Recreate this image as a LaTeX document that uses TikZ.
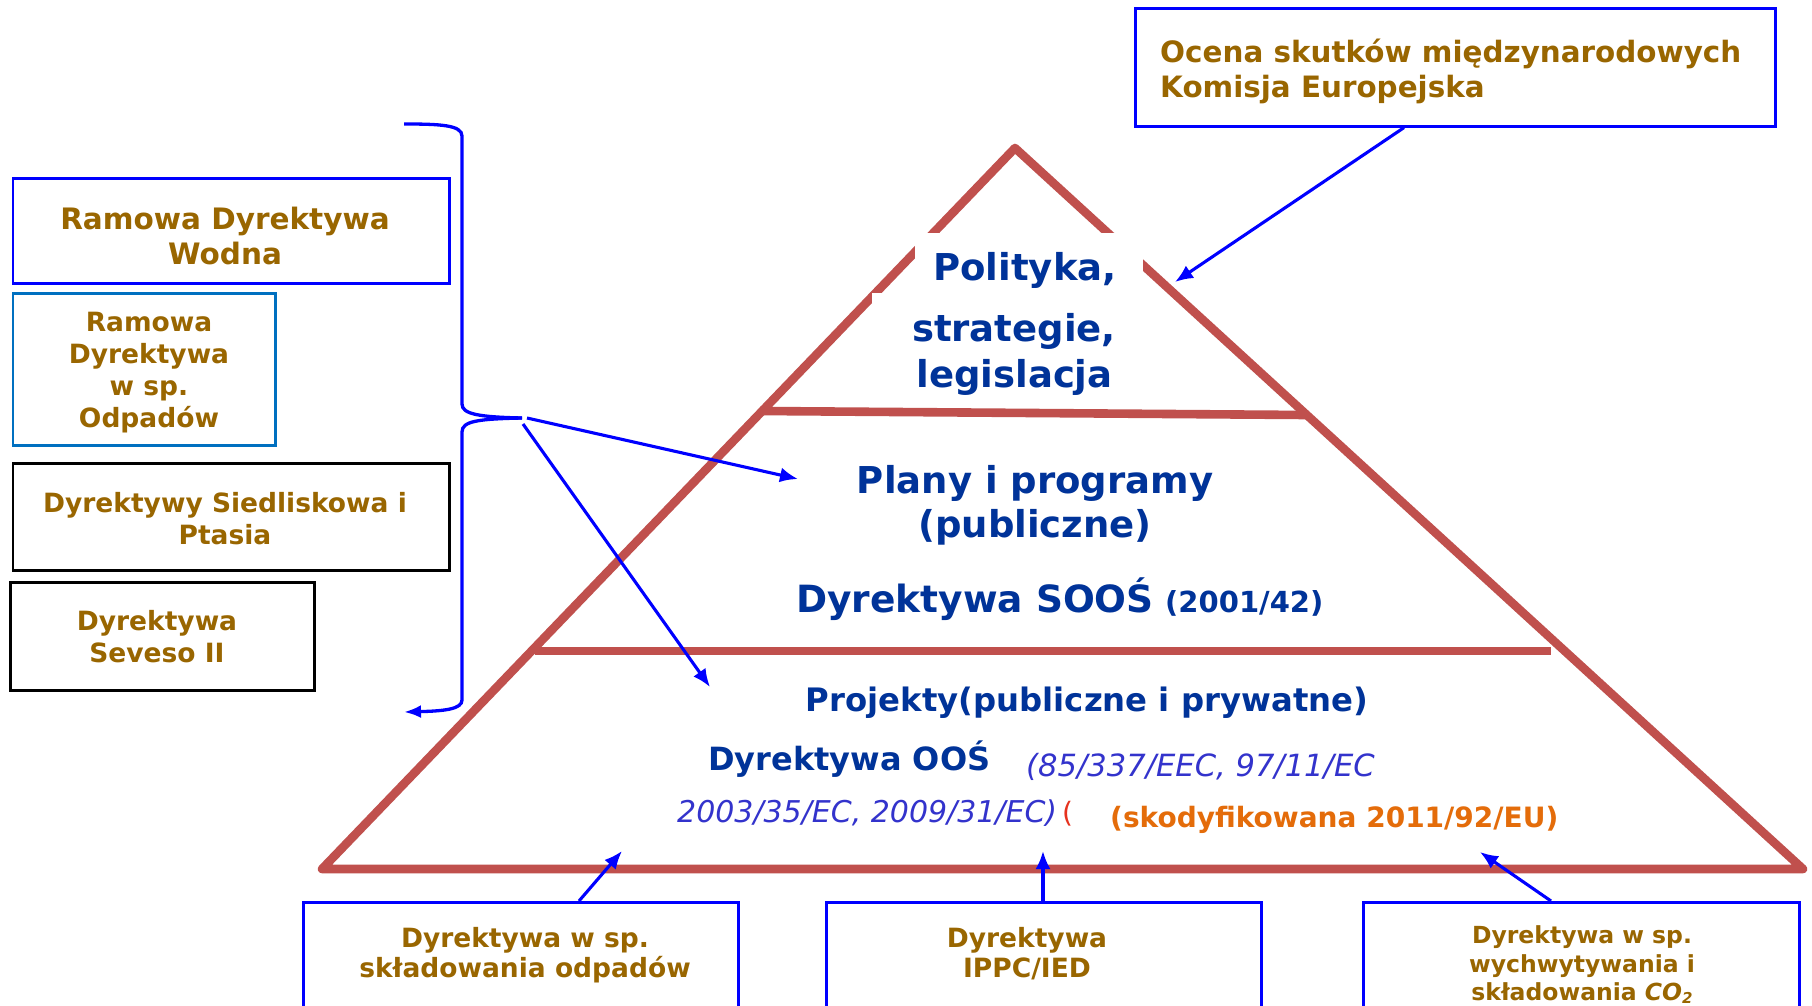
\documentclass[tikz,border=0pt]{standalone}
\usepackage{fontspec}
\setmainfont{DejaVu Sans}
\usetikzlibrary{arrows.meta,calc}
\definecolor{pyr}{RGB}{192,80,77}
\definecolor{gold}{RGB}{153,102,0}
\definecolor{navy}{RGB}{0,51,153}
\definecolor{vio}{RGB}{51,51,204}
\definecolor{orng}{RGB}{228,108,10}
\definecolor{redp}{RGB}{230,50,30}
\definecolor{ablue}{RGB}{0,0,255}
\definecolor{midblue}{RGB}{0,112,192}
\begin{document}
\begin{tikzpicture}[x=1pt,y=-1pt,
  pyrline/.style={draw=pyr,line width=8.6pt,line join=round,line cap=round},
  divline/.style={draw=pyr,line width=8.6pt,line cap=butt},
  conn/.style={draw=ablue,line width=3.1pt,-{Latex[length=18pt,width=15pt]}},
  bracel/.style={draw=ablue,line width=3.3pt},
  boxbase/.style={rectangle,inner sep=0pt,anchor=north west},
  bluebox/.style={boxbase,draw=ablue,line width=2.6pt},
  lbluebox/.style={boxbase,draw=midblue,line width=2.6pt},
  blackbox/.style={boxbase,draw=black,line width=2.8pt},
  gt/.style={text=gold,inner sep=0pt,anchor=base,font=\bfseries\fontsize{#1}{#1}\selectfont},
  gtl/.style={gt=#1,anchor=base west},
  nt/.style={text=navy,inner sep=0pt,anchor=base,font=\bfseries\fontsize{#1}{#1}\selectfont},
  ntl/.style={nt=#1,anchor=base west},
  vt/.style={text=vio,inner sep=0pt,anchor=base west,font=\itshape\fontsize{#1}{#1}\selectfont},
]
\useasboundingbox (0,0) rectangle (1812,1006);
\fill[white] (0,0) rectangle (1812,1006);

% pyramid
\draw[pyrline] (322,869) -- (1015,148) -- (1803,869) -- cycle;
\draw[divline] (760,411) -- (1306,415);
\draw[divline] (535,651) -- (1551,651);
% white masks of the top text block
\fill[white] (915,233) rectangle (1143,404);
\fill[white] (872,293) rectangle (1160,404);

% pyramid texts
\node[nt=37] (pol) at (1025,280) {Polityka,};
\node[nt=37] (str) at (1014,341) {strategie,};
\node[nt=37] (leg) at (1014.5,387) {legislacja};
\node[nt=37] (pla) at (1035,493) {Plany i programy};
\node[nt=37] (pub) at (1035,537) {(publiczne)};
\node[ntl=37.5] (soos) at (796,612) {Dyrektywa SOOŚ};
\node[ntl=29] (soosn) at (1165,612) {(2001/42)};
\node[nt=32.3] (proj) at (1087,711) {Projekty(publiczne i prywatne)};
\node[ntl=32] (oos) at (708,770) {Dyrektywa OOŚ};
\node[vt=30.6] (oosa) at (1026,776) {(85/337/EEC, 97/11/EC};
\node[vt=30] (oosb) at (677,822) {2003/35/EC, 2009/31/EC)};
\node[text=redp,inner sep=0pt,anchor=base west,font=\fontsize{28}{28}\selectfont] (redpar) at (1062,822) {(};
\node[text=orng,inner sep=0pt,anchor=base west,font=\bfseries\fontsize{28}{28}\selectfont] (skod) at (1110,827) {(skodyfikowana 2011/92/EU)};

% boxes
\node[bluebox,minimum width=640pt,minimum height=118pt] (ocena) at (1134,7) {};
\node[gtl=29.4] (oc1) at (1160,63) {Ocena skutków międzynarodowych};
\node[gtl=29.4] (oc2) at (1160,98) {Komisja Europejska};

\node[bluebox,minimum width=436.5pt,minimum height=105pt] (rdw) at (11.5,177) {};
\node[gt=29.5] (rdw1) at (225,229) {Ramowa Dyrektywa};
\node[gt=29.5] (rdw2) at (225,264) {Wodna};

\node[lbluebox,minimum width=262.5pt,minimum height=152pt] (rdo) at (11.5,292) {};
\node[gt=26.5] (rdo1) at (149,331) {Ramowa};
\node[gt=26.5] (rdo2) at (149,363) {Dyrektywa};
\node[gt=26.5] (rdo3) at (149,395) {w sp.};
\node[gt=26.5] (rdo4) at (149,427) {Odpadów};

\node[blackbox,minimum width=436.5pt,minimum height=107pt] (dsp) at (11.5,462) {};
\node[gt=26.5] (dsp1) at (225,512) {Dyrektywy Siedliskowa i};
\node[gt=26.5] (dsp2) at (225,544) {Ptasia};

\node[blackbox,minimum width=304pt,minimum height=108pt] (sev) at (9,581) {};
\node[gt=26.5] (sev1) at (157,630) {Dyrektywa};
\node[gt=26.5] (sev2) at (157,662) {Seveso II};

\node[bluebox,minimum width=435pt,minimum height=115pt] (b1) at (302,901) {};
\node[gt=26.5] (b1a) at (525,947) {Dyrektywa w sp.};
\node[gt=26.5] (b1b) at (525,977) {składowania odpadów};

\node[bluebox,minimum width=435pt,minimum height=115pt] (b2) at (825,901) {};
\node[gt=26.5] (b2a) at (1027,947) {Dyrektywa};
\node[gt=26.5] (b2b) at (1027,977) {IPPC/IED};

\node[bluebox,minimum width=436pt,minimum height=115pt] (b3) at (1362,901) {};
\node[gt=23.5] (b3a) at (1582,943) {Dyrektywa w sp.};
\node[gt=23.5] (b3b) at (1582,972) {wychwytywania i};
\node[gt=23.5] (b3c) at (1582,1000) {składowania {\itshape CO\raisebox{-0.3ex}{\fontsize{15}{15}\selectfont 2}}};

% brace
\coordinate (bt) at (522,418);
\draw[bracel] (404,124) .. controls (440,124) and (462,125) .. (462,136) -- (462,404) .. controls (462,414) and (478,417) .. (bt);
\draw[bracel,-{Latex[length=17pt,width=13pt]}] (bt) .. controls (478,419) and (462,421) .. (462,432) -- (462,700) .. controls (462,709) and (445,711) .. (404,712);

% targets
\coordinate (tp) at (798,479);
\coordinate (tq) at (710,687);
\coordinate (tr) at (1175,282);
\coordinate (tb1) at (622,851);
\coordinate (tb2) at (1043,851);
\coordinate (tb3) at (1480,852);
\coordinate (bt1) at (527,418);
\coordinate (bt2) at (523,424);

\draw[conn] (bt1) -- (tp);
\draw[conn] (bt2) -- (tq);
\draw[conn] ($(ocena.south west)+(270,0)$) -- (tr);
\draw[conn] ($(b1.north west)+(277,0)$) -- (tb1);
\draw[conn] ($(b2.north west)+(218,0)$) -- (tb2);
\draw[conn] ($(b3.north west)+(189,0)$) -- (tb3);
\end{tikzpicture}
\end{document}
